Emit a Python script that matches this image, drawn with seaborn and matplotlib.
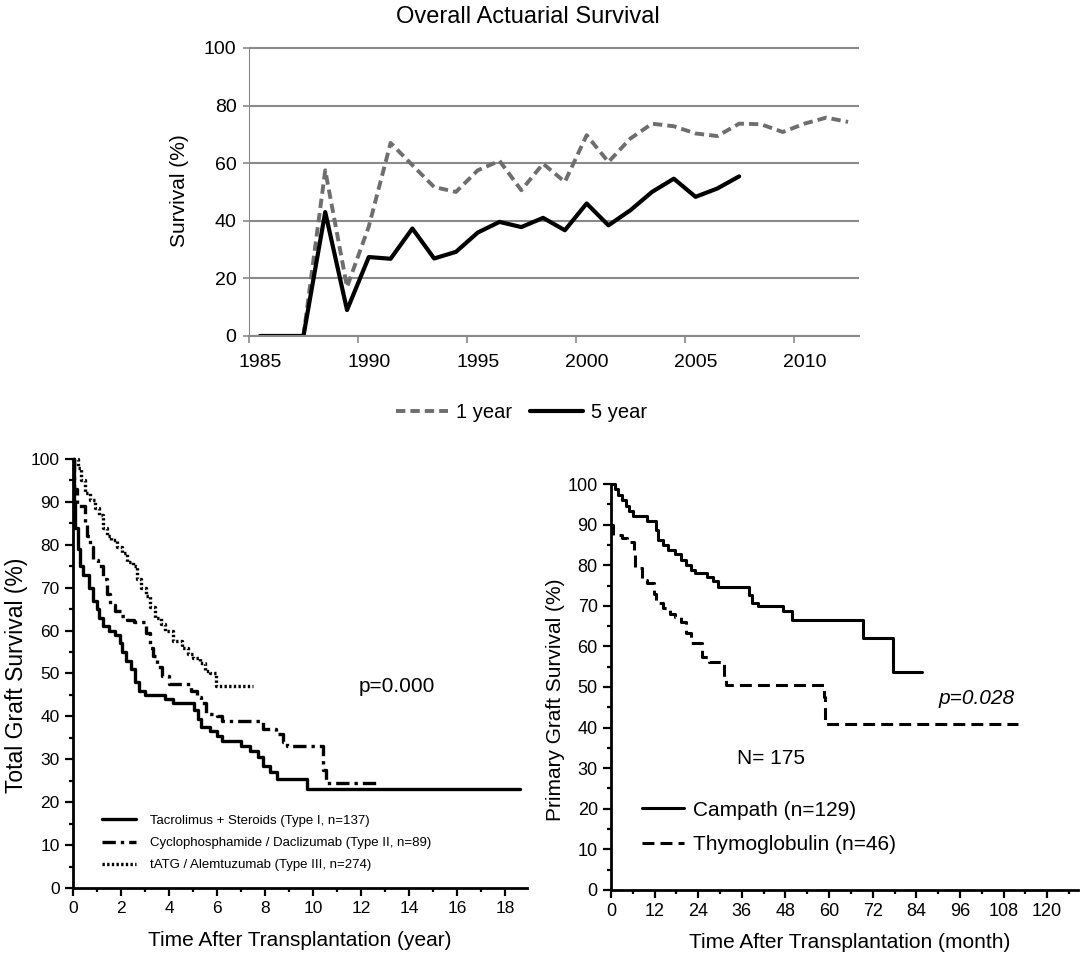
import matplotlib
matplotlib.use("Agg")
import matplotlib.pyplot as plt
from matplotlib.ticker import MultipleLocator
import seaborn as sns

# top chart: actuarial survival by year
years = list(range(1985, 2013))
one_year = [0, 0, 0, 57.5, 17, 38, 67, 59.3, 51.7, 50, 57.5, 60.8, 50.6, 59.8,
            53.5, 69.7, 60.4, 68.5, 73.7, 72.8, 70.3, 69.4, 73.7, 73.5, 70.8,
            73.7, 75.8, 74.3]
five_year = [0, 0, 0, 43, 9, 27.4, 26.8, 37.3, 26.9, 29.2, 35.9, 39.6, 37.8, 41,
             36.7, 46, 38.4, 43.6, 50, 54.6, 48.3, 51.2, 55.4]

# bottom left: total graft survival (years)
t1 = [0, 0.03, 0.1, 0.2, 0.3, 0.4, 0.65, 0.85, 1.0, 1.1, 1.25, 1.5, 1.75, 1.95,
      2.05, 2.2, 2.4, 2.6, 2.75, 3.0, 3.85, 4.15, 5.05, 5.2, 5.35, 5.7, 6.0,
      6.2, 7.0, 7.35, 7.7, 7.9, 8.2, 8.5, 9.75, 18.6]
s1 = [100, 90, 84, 79, 75, 73, 70, 67, 65, 63, 61, 60, 59, 57, 55, 53, 51, 48,
      46, 45, 44, 43, 41.5, 39.5, 37.5, 36.5, 35.5, 34.2, 33.2, 32, 30.5, 28.5,
      27, 25.5, 23, 23]
t2 = [0, 0.03, 0.15, 0.5, 0.6, 0.7, 0.85, 1.05, 1.25, 1.4, 1.55, 1.75, 2.0,
      2.25, 2.55, 3.05, 3.2, 3.35, 3.5, 3.7, 4.0, 4.9, 5.15, 5.35, 5.55, 6.0,
      6.2, 7.9, 8.45, 8.75, 8.9, 10.4, 10.55, 12.7]
s2 = [100, 93, 89, 85, 82, 79.5, 76.5, 75, 72, 68.5, 66, 64.5, 63.5, 62.5, 62,
      59.5, 56, 54, 51.5, 49.5, 47.5, 46, 44.5, 43, 40.5, 40, 39, 37, 36, 34,
      33, 27.5, 24.5, 24.5]
t3 = [0, 0.2, 0.35, 0.5, 0.7, 0.9, 1.1, 1.25, 1.4, 1.6, 1.85, 2.05, 2.25, 2.5,
      2.65, 2.85, 3.05, 3.2, 3.4, 3.65, 3.85, 4.15, 4.55, 4.8, 5.0, 5.3, 5.5,
      5.7, 5.95, 7.5]
s3 = [100, 98, 95, 92, 90.5, 88.5, 87, 84, 82, 81, 79.5, 78, 76, 75, 72, 70,
      68, 65.5, 63, 61.5, 60, 57.5, 56, 54.5, 53.5, 52.5, 50.5, 50, 47, 47]
labels_left = ["Tacrolimus + Steroids (Type I, n=137)",
               "Cyclophosphamide / Daclizumab (Type II, n=89)",
               "tATG / Alemtuzumab (Type III, n=274)"]

# bottom right: primary graft survival (months)
t_camp = [0, 1, 2, 3, 4, 5, 6, 10, 12.3, 12.8, 14.3, 15.7, 17.7, 19.2, 20.6,
          22.1, 23.1, 26.5, 28, 29.5, 37.9, 38.8, 40.3, 47.2, 49.7, 69.3, 77.7,
          85.5]
s_camp = [100, 98.7, 97.3, 96, 94.7, 93.3, 92, 91, 88.7, 86.2, 85, 83.7, 82.8,
          81.3, 80, 78.8, 78, 77.2, 76, 74.7, 72.7, 70.6, 70, 68.6, 66.5, 62,
          53.8, 53.8]
t_thymo = [0, 0.5, 2.9, 4.4, 6.4, 6.7, 8.4, 9.8, 11.8, 12.3, 14.3, 16.2, 17.7,
           19.2, 20.6, 22.1, 25.1, 27, 31, 31.5, 58.5, 59, 112]
s_thymo = [89.9, 87.4, 86.6, 85.8, 82.5, 79.2, 76.4, 75.5, 73, 70.6, 69.4, 68.1,
           67.3, 66.1, 63.2, 60.8, 57.5, 56.2, 52.5, 50.5, 47.6, 41, 41]

sns.set_style("ticks", {"axes.edgecolor": "black", "text.color": "black",
                        "xtick.color": "black", "ytick.color": "black",
                        "axes.labelcolor": "black"})
plt.rcParams["font.family"] = ["Liberation Sans", "DejaVu Sans"]

fig = plt.figure(figsize=(10.84, 9.58), dpi=100)
grey = "#8a8a8a"

# ---- top chart
ax = fig.add_axes([0.2297, 0.6493, 0.5627, 0.3037])
sns.lineplot(x=years, y=one_year, ax=ax, color="#6e6e6e", lw=2.8,
             linestyle=(0, (2.4, 1.3)), label="1 year")
sns.lineplot(x=years[:len(five_year)], y=five_year, ax=ax, color="black",
             lw=3, label="5 year")
ax.set_xlim(1984.5, 2012.5)
ax.set_ylim(0, 101)
ax.set_yticks(range(0, 101, 20))
ax.set_xticks(range(1985, 2011, 5))
ax.set_xticks([1984.5 + 5 * i for i in range(6)], minor=True)
ax.tick_params(axis="x", which="major", length=0, pad=13, labelsize=14)
ax.tick_params(axis="x", which="minor", length=5, width=1.2, color=grey)
ax.tick_params(axis="y", length=4, width=1.2, color=grey, labelsize=14, pad=5)
ax.grid(axis="y", color=grey, lw=1.5)
ax.spines["top"].set_visible(False)
ax.spines["right"].set_visible(False)
ax.spines["left"].set_color(grey)
ax.spines["left"].set_bounds(0, 100)
ax.spines["bottom"].set_color(grey)
ax.spines["bottom"].set_linewidth(1.5)
ax.set_ylabel("Survival (%)", fontsize=15)
ax.yaxis.set_label_coords(-0.098, 0.5)
ax.legend(loc="center", bbox_to_anchor=(0.481, 0.5689),
          bbox_transform=fig.transFigure, ncol=2, frameon=False, fontsize=14.5,
          handlelength=2.6, handletextpad=0.4, columnspacing=0.9,
          borderpad=0, borderaxespad=0)
fig.text(0.487, 0.982, "Overall Actuarial Survival", fontsize=17,
         ha="center", va="center")


def km_style(a, xmax, xmaj, xmin):
    a.set_ylim(0, 101)
    a.set_xlim(0, xmax)
    a.yaxis.set_major_locator(MultipleLocator(10))
    a.yaxis.set_minor_locator(MultipleLocator(5))
    a.xaxis.set_major_locator(MultipleLocator(xmaj))
    a.xaxis.set_minor_locator(MultipleLocator(xmin))
    a.spines["top"].set_visible(False)
    a.spines["right"].set_visible(False)
    a.spines["left"].set_bounds(0, 100)
    for s in ["left", "bottom"]:
        a.spines[s].set_linewidth(2)
    a.tick_params(which="major", length=5.5, width=1.6, pad=4)
    a.tick_params(which="minor", length=3, width=1.6)


# ---- bottom left
ax2 = fig.add_axes([0.0673, 0.0731, 0.4188, 0.4523])
sns.lineplot(x=t1, y=s1, ax=ax2, drawstyle="steps-post", estimator=None,
             sort=False, color="black", lw=2.4, label=labels_left[0])
sns.lineplot(x=t2, y=s2, ax=ax2, drawstyle="steps-post", estimator=None,
             sort=False, color="black", lw=2.4,
             linestyle=(0, (4, 1.5, 1, 1.5)), label=labels_left[1])
sns.lineplot(x=t3, y=s3, ax=ax2, drawstyle="steps-post", estimator=None,
             sort=False, color="black", lw=2.4, linestyle=(0, (0.7, 0.7)),
             label=labels_left[2])
km_style(ax2, 18.9, 2, 1)
ax2.set_xticks(range(0, 19, 2))
ax2.tick_params(labelsize=12.5)
ax2.set_xlabel("Time After Transplantation (year)", fontsize=15)
ax2.set_ylabel("Total Graft Survival (%)", fontsize=16.5)
ax2.xaxis.set_label_coords(0.5, -0.1)
ax2.yaxis.set_label_coords(-0.098, 0.49)
ax2.text(13.5, 47, "p=0.000", fontsize=15, ha="center", va="center")
ax2.legend(loc="center left", bbox_to_anchor=(0.094, 0.12),
           bbox_transform=fig.transFigure, frameon=False, fontsize=9.5,
           handlelength=2.6, handletextpad=1.05, labelspacing=0.75,
           borderpad=0, borderaxespad=0)

# ---- bottom right
ax3 = fig.add_axes([0.5637, 0.071, 0.4308, 0.428])
sns.lineplot(x=t_camp, y=s_camp, ax=ax3, drawstyle="steps-post",
             estimator=None, sort=False, color="black", lw=2.2,
             label="Campath (n=129)")
sns.lineplot(x=t_thymo, y=s_thymo, ax=ax3, drawstyle="steps-post",
             estimator=None, sort=False, color="black", lw=2.2,
             linestyle=(0, (3.9, 2)), label="Thymoglobulin (n=46)")
km_style(ax3, 128.5, 12, 6)
ax3.set_xticks(range(0, 121, 12))
ax3.tick_params(labelsize=13)
ax3.set_xlabel("Time After Transplantation (month)", fontsize=15)
ax3.set_ylabel("Primary Graft Survival (%)", fontsize=15)
ax3.xaxis.set_label_coords(0.512, -0.105)
ax3.yaxis.set_label_coords(-0.0985, 0.463)
ax3.text(111, 47.2, "p=0.028", fontsize=15, ha="right", va="center",
         style="italic")
ax3.text(44, 32.4, "N= 175", fontsize=15, ha="center", va="center")
ax3.legend(loc="center left", bbox_to_anchor=(0.5918, 0.1362),
           bbox_transform=fig.transFigure, frameon=False, fontsize=15,
           handlelength=2.05, handletextpad=0.43, labelspacing=0.75,
           borderpad=0, borderaxespad=0)

fig.savefig("out.png", dpi=100)
